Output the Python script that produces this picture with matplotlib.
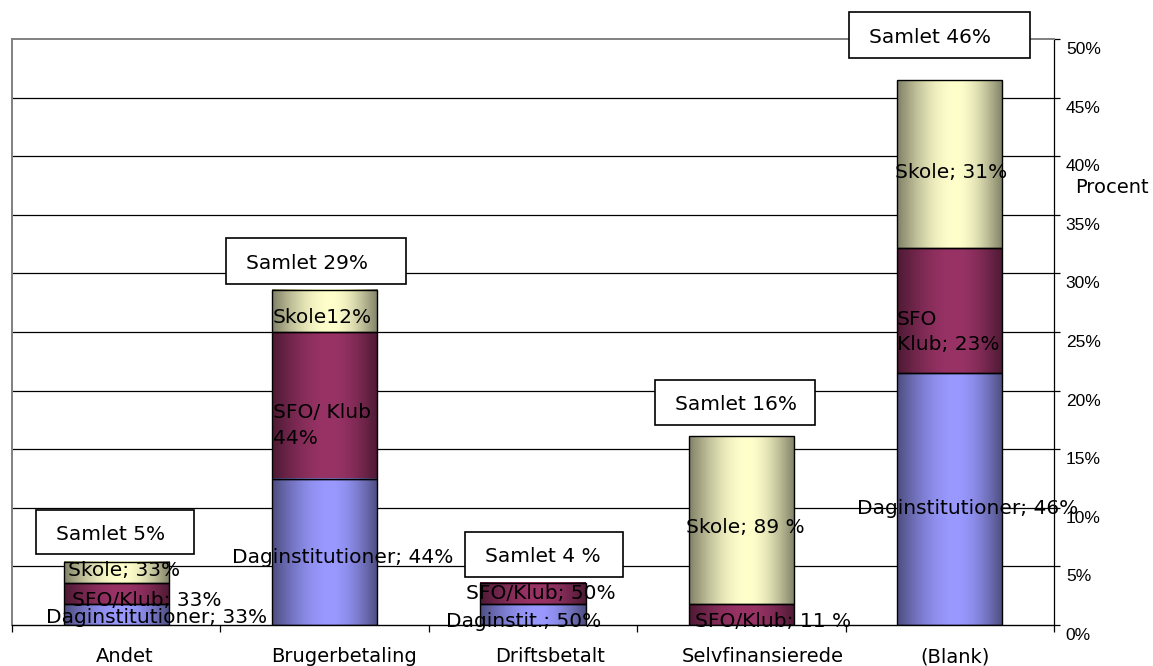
import numpy as np
import matplotlib
matplotlib.use("Agg")
import matplotlib.pyplot as plt
from matplotlib.patches import Rectangle
import matplotlib.transforms as mtrans

# ---------------- data ----------------
categories = ["Andet", "Brugerbetaling", "Driftsbetalt", "Selvfinansierede", "(Blank)"]
dag = [0.018, 0.125, 0.018, 0.0, 0.215]      # Daginstitutioner
sfo = [0.018, 0.125, 0.018, 0.018, 0.107]    # SFO/Klub
skole = [0.018, 0.036, 0.0, 0.143, 0.143]    # Skole
totals = ["Samlet 5%", "Samlet 29%", "Samlet 4 %", "Samlet 16%", "Samlet 46%"]
ytick_values = [0.0, 0.05, 0.10, 0.15, 0.20, 0.25, 0.30, 0.35, 0.40, 0.45, 0.50]
ytick_labels = ["0%", "5%", "10%", "15%", "20%", "25%", "30%", "35%", "40%", "45%", "50%"]

seg_texts = [
    "Skole; 33%", "SFO/Klub; 33%", "Daginstitutioner; 33%",
    "Skole12%", "SFO/ Klub\n44%", "Daginstitutioner; 44%",
    "SFO/Klub; 50%", "Daginstit.; 50%",
    "Skole; 89 %", "SFO/Klub; 11 %",
    "Skole; 31%", "SFO\nKlub; 23%", "Daginstitutioner; 46%",
]
# label anchor positions (left edge, vertical centre) in data coordinates
seg_pos = [
    (-0.231, 0.0461), (-0.212, 0.0213), (-0.337, 0.0068),
    (0.752, 0.262), (0.752, 0.170), (0.556, 0.058),
    (1.678, 0.0265), (1.583, 0.0034),
    (2.734, 0.0836), (2.777, 0.0034),
    (3.737, 0.3865), (3.747, 0.250), (3.555, 0.0998),
]
# total boxes: x0, x1, y0, y1 in data coordinates
box_pos = [
    (-0.385, 0.373, 0.0606, 0.0981),
    (0.527, 1.391, 0.291, 0.330),
    (1.674, 2.432, 0.041, 0.0794),
    (2.585, 3.353, 0.1706, 0.209),
    (3.516, 4.385, 0.484, 0.523),
]
# horizontal pixel shift of each category label (Excel places them off-centre)
xlabel_shift_px = [8, 19, 17, 21, 5]

# ---------------- style ----------------
FONT = "DejaVu Sans"
col_dag = (0x99 / 255, 0x99 / 255, 1.0)
col_sfo = (0x99 / 255, 0x33 / 255, 0x66 / 255)
col_skole = (1.0, 1.0, 0xCC / 255)

W, H = 1153, 666
fig = plt.figure(figsize=(W / 100, H / 100), dpi=100)
ax = fig.add_axes([12 / W, 41 / H, 1042 / W, 586 / H])

x = np.arange(len(categories))
bw = 0.505


def grad_fill(rects, rgb):
    t = np.linspace(0, 1, 256)
    peak = 0.55
    prof = np.where(t < peak, t / peak, (1 - t) / (1 - peak))
    prof = np.sin(prof * np.pi / 2)
    shade = 0.5 + 0.5 * prof
    img = (np.array(rgb)[None, :] * shade[:, None])[None, :, :]
    for r in rects:
        h = r.get_height()
        if h <= 0:
            r.set_visible(False)
            continue
        x0, y0, w = r.get_x(), r.get_y(), r.get_width()
        ax.imshow(img, extent=[x0, x0 + w, y0, y0 + h], aspect="auto",
                  zorder=2, interpolation="bilinear")
        r.set_facecolor("none")
        r.set_edgecolor("black")
        r.set_linewidth(1.0)
        r.set_zorder(3)


b1 = ax.bar(x, dag, bw)
bottom2 = np.array(dag)
b2 = ax.bar(x, sfo, bw, bottom=bottom2)
bottom3 = bottom2 + np.array(sfo)
b3 = ax.bar(x, skole, bw, bottom=bottom3)
grad_fill(b1, col_dag)
grad_fill(b2, col_sfo)
grad_fill(b3, col_skole)

ax.set_xlim(-0.5, len(categories) - 0.5)
ax.set_ylim(0, 0.5)

# gridlines
for v in ytick_values[1:-1]:
    ax.axhline(v, color="black", lw=0.9, zorder=1)

# spines
ax.spines["top"].set_color("#808080")
ax.spines["top"].set_linewidth(1.4)
ax.spines["left"].set_color("#808080")
ax.spines["left"].set_linewidth(1.4)
ax.spines["right"].set_color("black")
ax.spines["right"].set_linewidth(0.9)
ax.spines["bottom"].set_color("black")
ax.spines["bottom"].set_linewidth(1.0)

# y axis on right
ax.yaxis.tick_right()
ax.set_yticks(ytick_values)
ax.set_yticklabels(ytick_labels, fontfamily="Liberation Sans", fontsize=12.5)
ax.tick_params(axis="y", which="major", right=True, left=False, length=4,
               direction="out", pad=4.5, width=0.9)
offset = mtrans.ScaledTranslation(0, -9 / 100, fig.dpi_scale_trans)
for lab in ax.get_yticklabels():
    lab.set_transform(lab.get_transform() + offset)

# x axis
ax.set_xticks(x)
ax.set_xticklabels(categories, fontfamily=FONT, fontsize=14)
ax.tick_params(axis="x", which="major", length=0, pad=16)
for lab, dx in zip(ax.get_xticklabels(), xlabel_shift_px):
    lab.set_transform(lab.get_transform() +
                      mtrans.ScaledTranslation(dx / 100, 0, fig.dpi_scale_trans))
ax.set_xticks(np.arange(-0.5, len(categories), 1.0), minor=True)
ax.tick_params(axis="x", which="minor", length=5, direction="out", width=0.9)

# Procent label
ax.text(1.0202, 0.7474, "Procent", transform=ax.transAxes, ha="left",
        va="center", fontsize=14, fontfamily=FONT, clip_on=False)

# segment labels
for txt, (px, py) in zip(seg_texts, seg_pos):
    ax.text(px, py, txt, ha="left", va="center", fontsize=14.5,
            fontfamily=FONT, color="black", zorder=6, clip_on=False,
            linespacing=1.45)

# total boxes
for txt, (x0, x1, y0, y1) in zip(totals, box_pos):
    ax.add_patch(Rectangle((x0, y0), x1 - x0, y1 - y0, facecolor="white",
                           edgecolor="black", lw=1.2, zorder=5, clip_on=False))
    ax.text(x0 + 0.096, (y0 + y1) / 2 - 0.002, txt, ha="left", va="center",
            fontsize=14.5, fontfamily=FONT, zorder=6, clip_on=False)

fig.savefig("out.png", dpi=100)
